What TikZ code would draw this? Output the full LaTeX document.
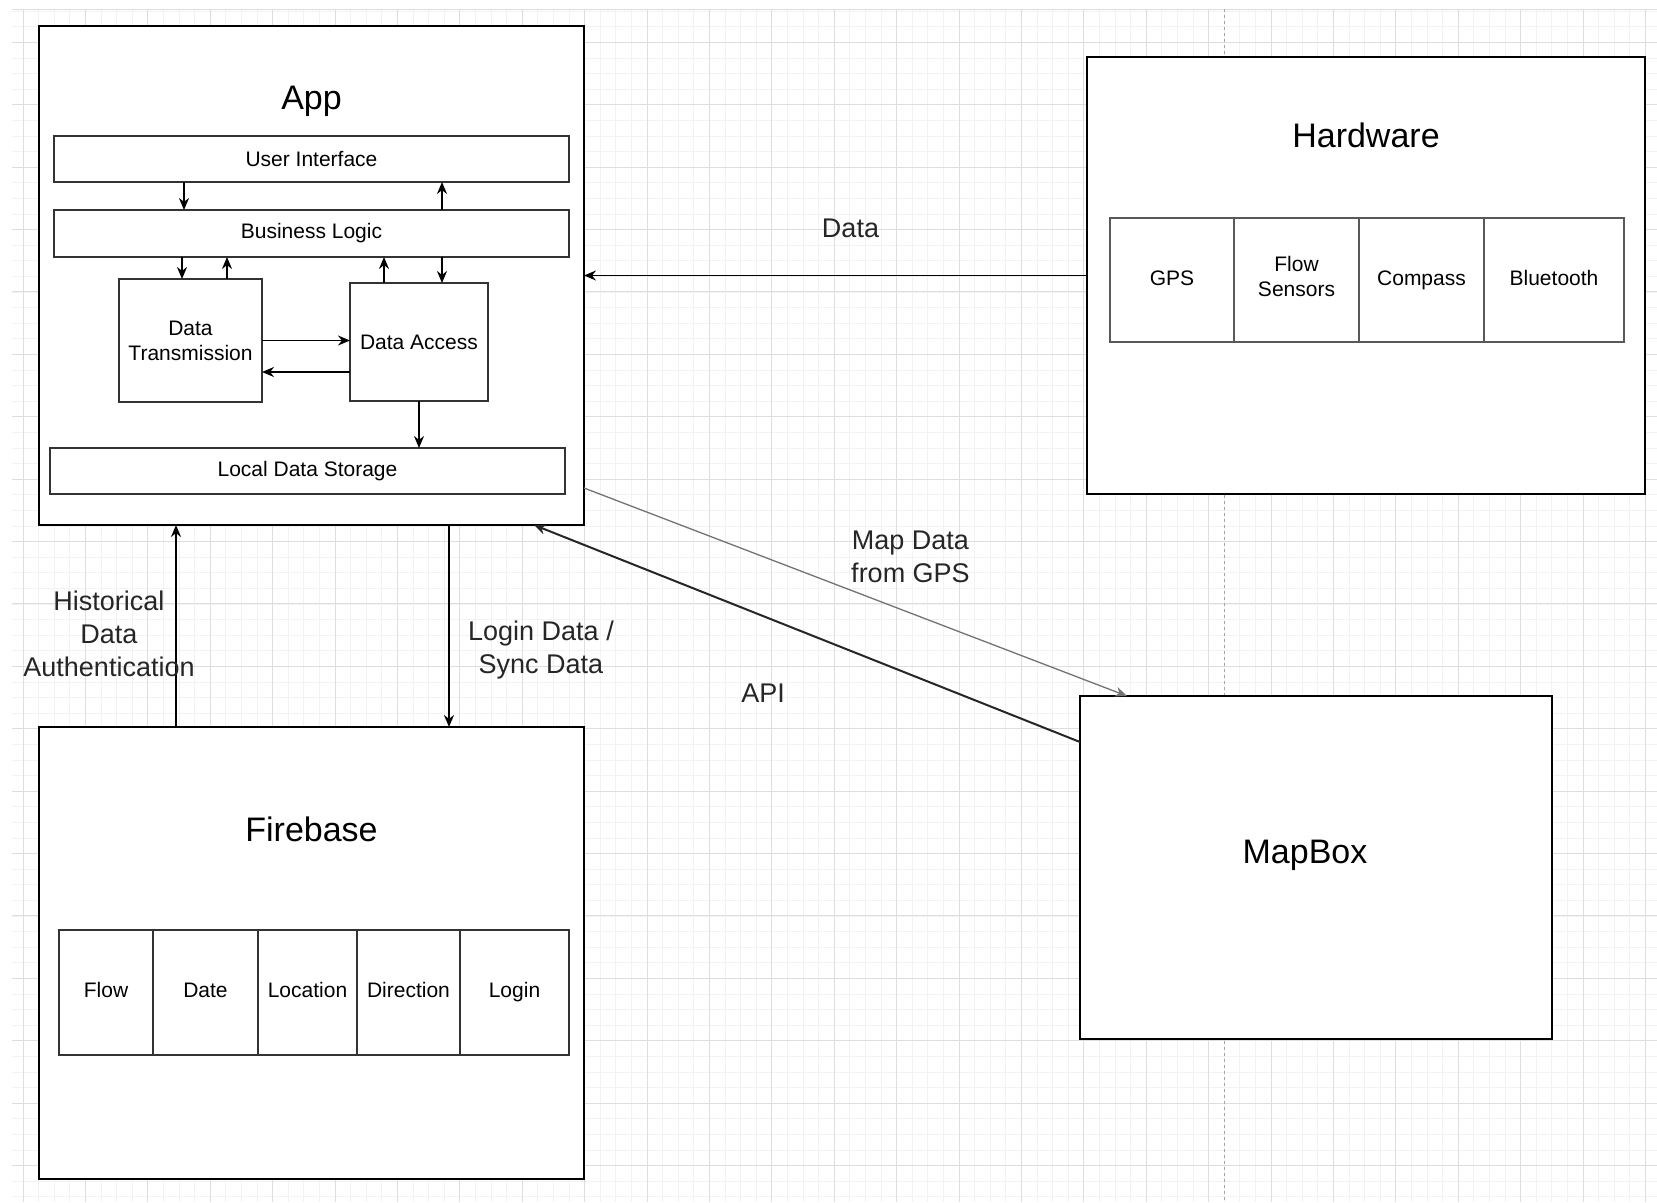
\documentclass[tikz,border=0pt]{standalone}
\usepackage{fontspec}
\setmainfont{Liberation Sans}
\usetikzlibrary{positioning, arrows.meta}

\tikzstyle{sysbox} = [rectangle, draw, fill=white, line width=1.8pt, inner sep=0, outer sep=0]
\tikzstyle{layer} = [rectangle, draw=black!80, fill=white, line width=1.6pt, inner sep=0, outer sep=0, align=center, font=\fontsize{21}{25}\selectfont]
\tikzstyle{cell} = [rectangle, draw=black!65, fill=white, line width=2pt, inner sep=0, outer sep=0, minimum height=124pt, align=center, font=\fontsize{21}{25}\selectfont, execute at begin node=\strut]
\tikzstyle{title} = [font=\fontsize{34}{40}\selectfont]
\tikzstyle{lbl} = [font=\fontsize{27}{33}\selectfont, align=center, text=black!85]
\tikzstyle{line} = [draw, ->, >={Stealth[length=12pt,width=10pt]}, line width=1.6pt]
\tikzstyle{gridminor} = [draw=black!5, line width=0.8pt]
\tikzstyle{gridmajor} = [draw=black!13, line width=1pt]

\begin{document}
\begin{tikzpicture}[x=1pt, y=-1pt]
\useasboundingbox (0,0) rectangle (1657,1202);

% background grid
\fill[white] (0,0) rectangle (1657,1202);
\foreach \k in {1,...,105} \path[gridminor] ({7.4+15.6*\k},9) -- ({7.4+15.6*\k},1202);
\foreach \k in {0,...,76} \path[gridminor] (12,{11.1+15.6*\k}) -- (1657,{11.1+15.6*\k});
\foreach \k in {0,...,26} \path[gridmajor] ({23+62.4*\k},9) -- ({23+62.4*\k},1202);
\foreach \k in {0,...,18} \path[gridmajor] (12,{42.3+62.4*\k}) -- (1657,{42.3+62.4*\k});
\path[gridmajor] (12,9) -- (1657,9);
\draw[black!35, dashed, line width=1pt] (1224,9) -- (1224,1202);

% App
\node [sysbox, minimum width=545pt, minimum height=499pt] (app) at (311.5,275.5) {};
\node [title] (apptitle) at ([yshift=-75pt]app.north) {App};
\node [layer, minimum width=515pt, minimum height=46pt] (ui) at (311.5,159) {User Interface};
\node [layer, minimum width=515pt, minimum height=47pt, below=28pt of ui] (bl) {Business Logic};
\node [layer, minimum width=143pt, minimum height=123pt] (dt) at (190.5,340.5) {Data\\Transmission};
\node [layer, minimum width=138pt, minimum height=118pt] (da) at (419,342) {Data Access};
\node [layer, minimum width=515pt, minimum height=46pt] (lds) at (307.5,471) {Local Data Storage};

% Hardware
\node [sysbox, minimum width=558pt, minimum height=437pt] (hw) at (1366,275.5) {};
\node [title] (hwtitle) at ([yshift=-78pt]hw.north) {Hardware};
\node [cell, minimum width=124pt] (gps) at (1172,280) {GPS};
\node [cell, minimum width=125pt, right=0pt of gps] (flowsens) {Flow\\Sensors\strut};
\node [cell, minimum width=125pt, right=0pt of flowsens] (compass) {Compass};
\node [cell, minimum width=140pt, right=0pt of compass] (bt) {Bluetooth};

% Firebase
\node [sysbox, minimum width=545pt, minimum height=452pt] (fb) at (311.5,953) {};
\node [title] (fbtitle) at ([yshift=-102pt]fb.north) {Firebase};
\node [cell, draw=black!80, line width=1.6pt, minimum width=94pt, minimum height=125pt] (flow) at (106,992.5) {Flow};
\node [cell, draw=black!80, line width=1.6pt, minimum width=105pt, minimum height=125pt, right=0pt of flow] (date) {Date};
\node [cell, draw=black!80, line width=1.6pt, minimum width=99pt, minimum height=125pt, right=0pt of date] (loc) {Location};
\node [cell, draw=black!80, line width=1.6pt, minimum width=103pt, minimum height=125pt, right=0pt of loc] (dir) {Direction};
\node [cell, draw=black!80, line width=1.6pt, minimum width=109pt, minimum height=125pt, right=0pt of dir] (login) {Login};

% MapBox
\node [sysbox, minimum width=472pt, minimum height=343pt] (mb) at (1316,867.5) {};
\node [title] (mbtitle) at (1305,855) {MapBox};

% inside the app
\path [line] ([xshift=130pt]ui.south west) -- ([xshift=130pt]bl.north west);
\path [line] ([xshift=388pt]bl.north west) -- ([xshift=388pt]ui.south west);
\path [line] ([xshift=128pt]bl.south west) -- ([xshift=63pt]dt.north west);
\path [line] ([xshift=108pt]dt.north west) -- ([xshift=173pt]bl.south west);
\path [line] ([xshift=34pt]da.north west) -- ([xshift=330pt]bl.south west);
\path [line] ([xshift=388pt]bl.south west) -- ([xshift=92pt]da.north west);
\path [line] (dt.east) -- (dt.east -| da.west);
\path [line] ([yshift=-30pt]da.west) -- ([yshift=-30pt]da.west -| dt.east);
\path [line] (da.south) -- (da.south |- lds.north);

% between the systems
\path [line] (hw.west) -- node[lbl, xshift=15pt, yshift=47pt] {Data} (hw.west -| app.east);
\path [line] ([xshift=137pt]fb.north west) -- node[lbl, xshift=-67pt, yshift=-8pt] {Historical\\Data\\Authentication} ([xshift=137pt]app.south west);
\path [line] ([xshift=410pt]app.south west) -- node[lbl, xshift=92pt, yshift=-24pt] {Login Data /\\Sync Data} ([xshift=410pt]fb.north west);
\path [line, draw=black!55, line width=1.3pt] ([yshift=37pt]app.south east) -- node[lbl, xshift=55pt, yshift=35pt] {Map Data\\from GPS} ([xshift=47pt]mb.north west);
\path [line, draw=black!85, line width=2pt] ([yshift=-46pt]mb.north west) -- node[lbl, xshift=-44pt, yshift=-60pt] {API} ([xshift=-50pt]app.south east);

\end{tikzpicture}
\end{document}
